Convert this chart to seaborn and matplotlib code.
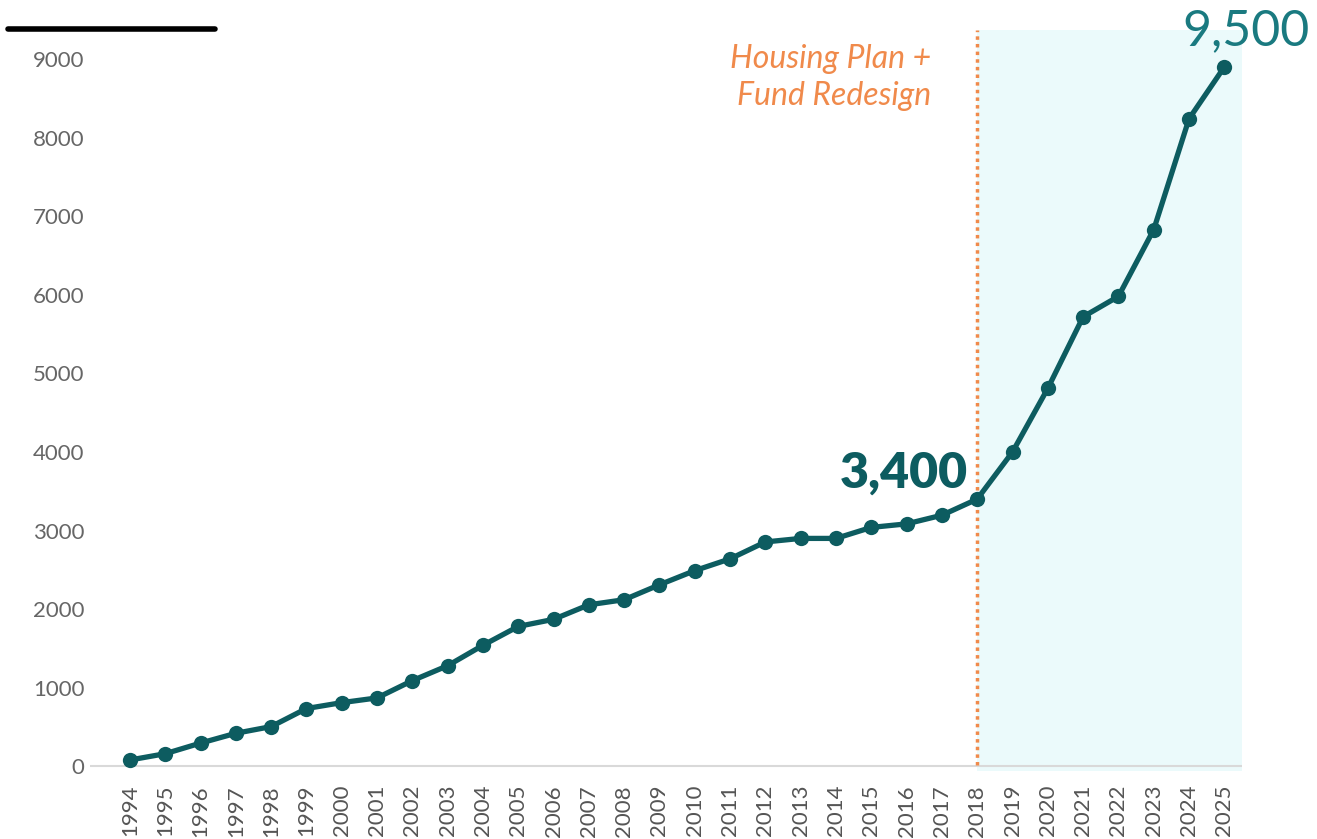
import matplotlib
matplotlib.use("Agg")
import matplotlib.pyplot as plt
import seaborn as sns
import pandas as pd
from matplotlib.lines import Line2D

years = list(range(1994, 2026))
values = [80, 160, 295, 420, 505, 735, 810, 870, 1090, 1280, 1540, 1780, 1870, 2055,
          2120, 2310, 2490, 2640, 2855, 2900, 2900, 3040, 3085, 3195, 3400, 4000, 4810,
          5720, 5980, 6830, 8240, 8900]
y_ticks = [0, 1000, 2000, 3000, 4000, 5000, 6000, 7000, 8000, 9000]
event_year = 2018
start_label = "3,400"
end_label = "9,500"

df = pd.DataFrame({"year": years, "value": values})

sns.set_theme(style="white")
plt.rcParams['font.family'] = ['Lato', 'DejaVu Sans']

fig = plt.figure(figsize=(13.17, 8.39), dpi=100)
ax = fig.add_axes([90/1317, 68/839, (1242-90)/1317, (771-30)/839])

teal = "#0D5C60"
orange = "#F08A4B"

ax.axvspan(event_year, 2025.5, color="#EBFAFB", zorder=0, lw=0)
ax.axhline(0, color="#D9D9D9", lw=1.5, zorder=1)
ax.axvline(event_year, ymin=0.008, ymax=1.0, color=orange, lw=2.5,
           linestyle=(0, (1, 1.2)), zorder=2)

sns.lineplot(data=df, x="year", y="value", ax=ax, color=teal, lw=3.8,
             marker="o", markersize=11, markeredgewidth=0, zorder=3)

ax.set_xlim(1994 - 1.13, 2025.5)
ax.set_ylim(-60, 9370)
ax.set_xticks(years)
ax.set_xticklabels([str(y) for y in years], rotation=90, fontsize=16, color="#555555")
ax.set_yticks(y_ticks)
ax.set_yticklabels([str(v) for v in y_ticks], fontsize=16, color="#666666")
ax.tick_params(axis="x", length=0, pad=10)
ax.tick_params(axis="y", length=0, pad=4)
ax.set_xlabel("")
ax.set_ylabel("")
for s in ax.spines.values():
    s.set_visible(False)
ax.grid(False)

ax.text(2016.7, 8885, "Housing Plan +", ha="right", va="baseline", fontsize=23,
        style="italic", color=orange)
ax.text(2016.7, 8414, "Fund Redesign", ha="right", va="baseline", fontsize=23,
        style="italic", color=orange)
ax.text(2017.75, 3540, start_label, ha="right", va="baseline", fontsize=36,
        fontweight="heavy", color=teal)
ax.text(2025.62, 9178, end_label, ha="center", va="baseline", fontsize=36,
        color="#1A7A80", clip_on=False)

fig.add_artist(Line2D([8/1317, 215/1317], [1 - 29/839, 1 - 29/839], color="black",
                      lw=4, transform=fig.transFigure))

fig.savefig("out.png", dpi=100)
